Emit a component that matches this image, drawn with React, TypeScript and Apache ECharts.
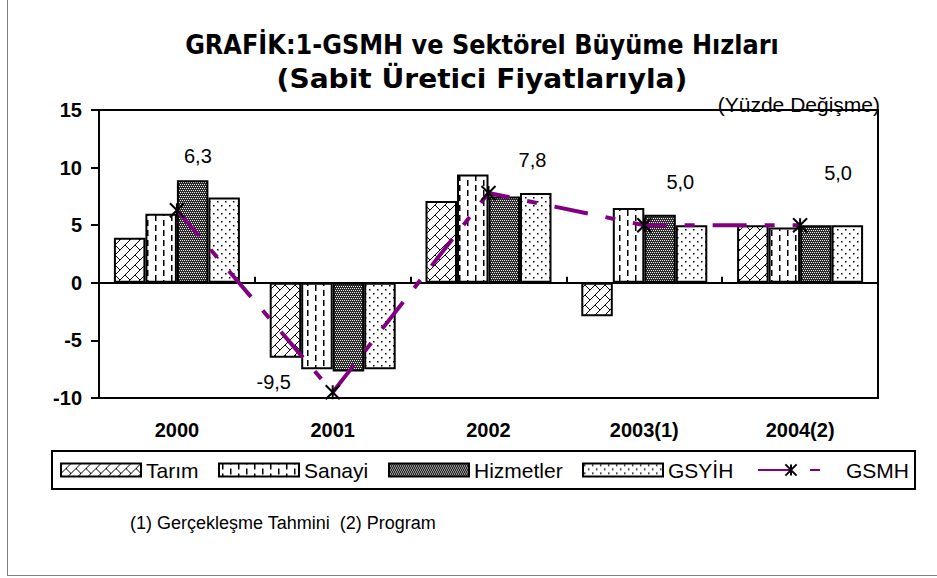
import React, { useEffect, useRef } from "react";
import * as echarts from "echarts";

const categories = ["2000", "2001", "2002", "2003(1)", "2004(2)"];
const tarim = [3.9, -6.5, 7.1, -2.9, 5.0];
const sanayi = [6.0, -7.5, 9.4, 6.5, 4.8];
const hizmetler = [8.9, -7.7, 7.5, 5.9, 5.0];
const gsyih = [7.4, -7.5, 7.8, 5.0, 5.0];
const gsmh = [6.3, -9.5, 7.8, 5.0, 5.0];
const gsmhLabels = ["6,3", "-9,5", "7,8", "5,0", "5,0"];
const seriesNames = ["Tarım", "Sanayi", "Hizmetler", "GSYİH", "GSMH"];
const yMin = -10;
const yMax = 15;
const yStep = 5;

// label placement (styling, not data)
const labelOffsets: number[][] = [
  [21, -54],
  [-59, -10],
  [44, -33],
  [36, -43],
  [38, -52],
];
// legend item x positions / icon widths (layout)
const legendLeft = [60, 218, 388, 582, 757];
const legendIconW = [80, 80, 80, 80, 66];

function tile(w: number, h: number, draw: (g: CanvasRenderingContext2D) => void): any {
  const c = document.createElement("canvas");
  c.width = w;
  c.height = h;
  const g = c.getContext("2d")!;
  draw(g);
  return { image: c, repeat: "repeat" };
}

export default function App() {
  const ref = useRef<HTMLDivElement>(null);
  useEffect(() => {
    document.body.style.margin = "0";
    const chart = echarts.init(ref.current!, null, { renderer: "svg" });

    const patTarim = tile(10, 10, (g) => {
      g.fillStyle = "#fff";
      g.fillRect(0, 0, 10, 10);
      g.strokeStyle = "#000";
      g.lineWidth = 1;
      g.beginPath();
      g.moveTo(-1, 11);
      g.lineTo(11, -1);
      g.moveTo(5, 5);
      g.lineTo(11, 11);
      g.moveTo(-1, -1);
      g.lineTo(0, 0);
      g.stroke();
    });
    const patSanayi = tile(16, 10, (g) => {
      g.fillStyle = "#fff";
      g.fillRect(0, 0, 16, 10);
      g.fillStyle = "#000";
      g.fillRect(3, 0, 1.5, 6);
      g.fillRect(11, 5, 1.5, 5);
      g.fillRect(11, 0, 1.5, 1);
    });
    const patHizmet = tile(4, 4, (g) => {
      g.fillStyle = "#2a2a2a";
      g.fillRect(0, 0, 4, 4);
      g.fillStyle = "#f0f0f0";
      g.fillRect(0, 0, 1, 1);
      g.fillRect(2, 0, 1, 1);
      g.fillRect(1, 2, 1, 1);
      g.fillRect(3, 2, 1, 1);
    });
    const patGsyih = tile(8, 8, (g) => {
      g.fillStyle = "#fff";
      g.fillRect(0, 0, 8, 8);
      g.fillStyle = "#000";
      g.fillRect(1, 1, 1.5, 1.5);
      g.fillRect(5, 5, 1.5, 1.5);
    });

    const barCommon = (name: string, data: number[], pat: any) => ({
      name,
      type: "bar",
      data,
      barWidth: 31.5,
      barGap: "0%",
      itemStyle: { color: pat, borderColor: "#000", borderWidth: 2 },
      z: 2,
    });

    const font = "Liberation Sans, Arial, sans-serif";

    const legends = seriesNames.map((n, i) => ({
      data: [n],
      left: legendLeft[i],
      top: 459.5,
      padding: 0,
      icon: i < 4 ? "rect" : undefined,
      itemWidth: legendIconW[i],
      itemHeight: i < 4 ? 13 : 14,
      textStyle: {
        fontFamily: font,
        fontSize: 21,
        color: "#000",
        lineHeight: 21,
        padding: i < 4 ? [0, 0, 0, 0] : [0, 0, 0, 17],
      },
    }));

    const option: any = {
      animation: false,
      grid: {
        left: 99,
        right: 59,
        top: 110,
        bottom: 180,
        show: true,
        borderColor: "#000",
        borderWidth: 2,
        backgroundColor: "transparent",
      },
      xAxis: {
        type: "category",
        data: categories,
        axisLine: { show: true, onZero: true, lineStyle: { color: "#000", width: 2 } },
        axisTick: { show: true, inside: true, length: 6, lineStyle: { color: "#000", width: 2 } },
        axisLabel: {
          margin: 22,
          color: "#000",
          fontFamily: font,
          fontWeight: "bold",
          fontSize: 20,
        },
        splitLine: { show: false },
      },
      yAxis: {
        type: "value",
        min: yMin,
        max: yMax,
        interval: yStep,
        axisLine: { show: true, lineStyle: { color: "#000", width: 2 } },
        axisTick: { show: true, inside: false, length: 8, lineStyle: { color: "#000", width: 2 } },
        axisLabel: {
          margin: 17,
          color: "#000",
          fontFamily: font,
          fontWeight: "bold",
          fontSize: 20,
        },
        splitLine: { show: false },
      },
      legend: legends,
      series: [
        barCommon(seriesNames[0], tarim, patTarim),
        barCommon(seriesNames[1], sanayi, patSanayi),
        barCommon(seriesNames[2], hizmetler, patHizmet),
        barCommon(seriesNames[3], gsyih, patGsyih),
        {
          name: seriesNames[4],
          type: "line",
          data: gsmh.map((v, i) => ({ value: v, label: { offset: labelOffsets[i] } })),
          z: 5,
          symbol: "path://M0 0L10 10M10 0L0 10M5 0L5 10",
          symbolSize: 14,
          symbolKeepAspect: true,
          itemStyle: { color: "#000", borderColor: "#000", borderWidth: 2 },
          lineStyle: { color: "#800080", width: 4, type: [34, 18, 10, 18] },
          label: {
            show: true,
            position: "inside",
            formatter: (p: any) => gsmhLabels[p.dataIndex],
            fontFamily: font,
            fontSize: 20,
            color: "#000",
          },
        },
      ],
      graphic: [
        {
          type: "line",
          shape: { x1: 7.5, y1: 0, x2: 7.5, y2: 576 },
          style: { stroke: "#808080", lineWidth: 1 },
        },
        {
          type: "line",
          shape: { x1: 7, y1: 575.5, x2: 937, y2: 575.5 },
          style: { stroke: "#808080", lineWidth: 1 },
        },
        {
          type: "rect",
          shape: { x: 52, y: 451, width: 863, height: 38 },
          style: { fill: "none", stroke: "#000", lineWidth: 2 },
        },
        {
          type: "text",
          x: 482,
          y: 44,
          scaleX: 0.89,
          style: {
            text: "GRAFİK:1-GSMH ve Sektörel Büyüme Hızları",
            font: "bold 27px 'DejaVu Sans'",
            fill: "#000",
            textAlign: "center",
            textVerticalAlign: "middle",
          },
        },
        {
          type: "text",
          x: 482,
          y: 78,
          scaleX: 1.04,
          style: {
            text: "(Sabit Üretici Fiyatlarıyla)",
            font: "bold 27px 'DejaVu Sans'",
            fill: "#000",
            textAlign: "center",
            textVerticalAlign: "middle",
          },
        },
        {
          type: "text",
          x: 880,
          y: 104,
          style: {
            text: "(Yüzde Değişme)",
            font: "21px 'Liberation Sans'",
            fill: "#000",
            textAlign: "right",
            textVerticalAlign: "middle",
          },
        },
        {
          type: "text",
          x: 130,
          y: 523,
          style: {
            text: "(1) Gerçekleşme Tahmini  (2) Program",
            font: "18px 'Liberation Sans'",
            fill: "#000",
            textAlign: "left",
            textVerticalAlign: "middle",
          },
        },
      ],
    };
    chart.setOption(option);
    return () => chart.dispose();
  }, []);
  return <div ref={ref} style={{ width: 937, height: 578 }} />;
}
